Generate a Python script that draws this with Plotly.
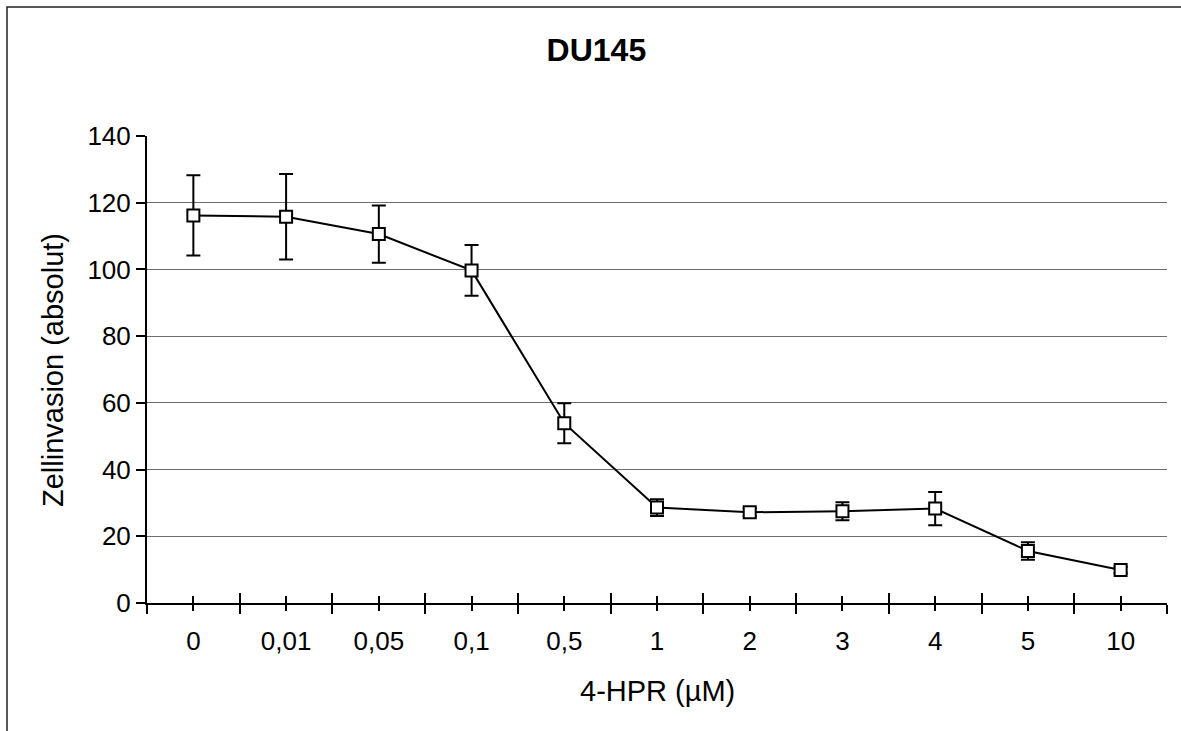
import plotly.graph_objects as go

categories = ["0", "0,01", "0,05", "0,1", "0,5", "1", "2", "3", "4", "5", "10"]
invasion = [116.2, 115.8, 110.6, 99.7, 53.9, 28.6, 27.2, 27.5, 28.3, 15.6, 9.9]
errors = [12.0, 12.8, 8.6, 7.6, 6.0, 2.5, 1.2, 2.7, 5.0, 2.6, 1.0]
y_ticks = [0, 20, 40, 60, 80, 100, 120, 140]

FONT = "Liberation Sans, Arial, sans-serif"
pos = list(range(len(categories)))
bounds = [i - 0.5 for i in range(len(categories) + 1)]

fig = go.Figure()
fig.add_trace(go.Scatter(
    x=pos, y=invasion, mode="lines+markers",
    line=dict(color="black", width=2),
    marker=dict(symbol="square", size=12, color="white", line=dict(color="black", width=2)),
    error_y=dict(type="data", array=errors, visible=True, color="black", thickness=2, width=7),
    showlegend=False, hoverinfo="skip",
))
# invisible trace to activate the overlay axis used for crossing ticks
fig.add_trace(go.Scatter(x=[pos[0]], y=[invasion[0]], xaxis="x2", mode="markers",
                         marker=dict(opacity=0), showlegend=False, hoverinfo="skip"))

fig.update_layout(
    width=1181, height=731,
    margin=dict(l=147, r=14, t=136, b=128),
    paper_bgcolor="white", plot_bgcolor="white",
    font=dict(family=FONT, color="black"),
    title=dict(text="<b>DU145</b>", x=0.505, xref="container", xanchor="center",
               y=1 - 50 / 731, yref="container", yanchor="middle",
               font=dict(size=32, family=FONT, color="black")),
    xaxis=dict(
        range=[-0.5, len(categories) - 0.5], tickmode="array", tickvals=pos, ticktext=categories,
        showgrid=False, zeroline=False, showline=True, linecolor="black", linewidth=2,
        ticks="outside", ticklen=6, tickwidth=2, tickcolor="black", ticklabelstandoff=8,
        tickfont=dict(size=26, family=FONT, color="black"),
        minor=dict(tickmode="array", tickvals=bounds, ticks="outside", ticklen=9,
                   tickwidth=2, tickcolor="black", showgrid=False),
    ),
    xaxis2=dict(
        overlaying="x", anchor="y", side="bottom", matches="x",
        range=[-0.5, len(categories) - 0.5], tickmode="array", tickvals=pos,
        showticklabels=False, showgrid=False, zeroline=False, showline=False,
        ticks="inside", ticklen=7, tickwidth=2, tickcolor="black",
        minor=dict(tickmode="array", tickvals=bounds, ticks="inside", ticklen=10,
                   tickwidth=2, tickcolor="black", showgrid=False),
    ),
    yaxis=dict(
        range=[0, 140], tickmode="array", tickvals=y_ticks,
        showgrid=True, gridcolor="#6e6e6e", gridwidth=1, zeroline=False,
        showline=True, linecolor="black", linewidth=2,
        ticks="outside", ticklen=9, tickwidth=2, tickcolor="black",
        tickfont=dict(size=26, family=FONT, color="black"),
    ),
    annotations=[
        dict(text="4-HPR (µM)", xref="paper", yref="paper", x=0.5, y=(603 - 691) / 467,
             xanchor="center", yanchor="middle", showarrow=False,
             font=dict(size=29, family=FONT, color="black")),
        dict(text="Zellinvasion (absolut)", xref="paper", yref="paper",
             x=(53 - 147) / 1020, y=(603 - 370) / 467, textangle=-90,
             xanchor="center", yanchor="middle", showarrow=False,
             font=dict(size=29, family=FONT, color="black")),
    ],
    shapes=[
        dict(type="rect", xref="paper", yref="paper",
             x0=(7 - 147) / 1020, x1=1.1, y0=-0.4, y1=(603 - 7) / 467,
             line=dict(color="#222222", width=1.5), fillcolor="rgba(0,0,0,0)", layer="below"),
    ],
)

fig.write_html("out.html")
